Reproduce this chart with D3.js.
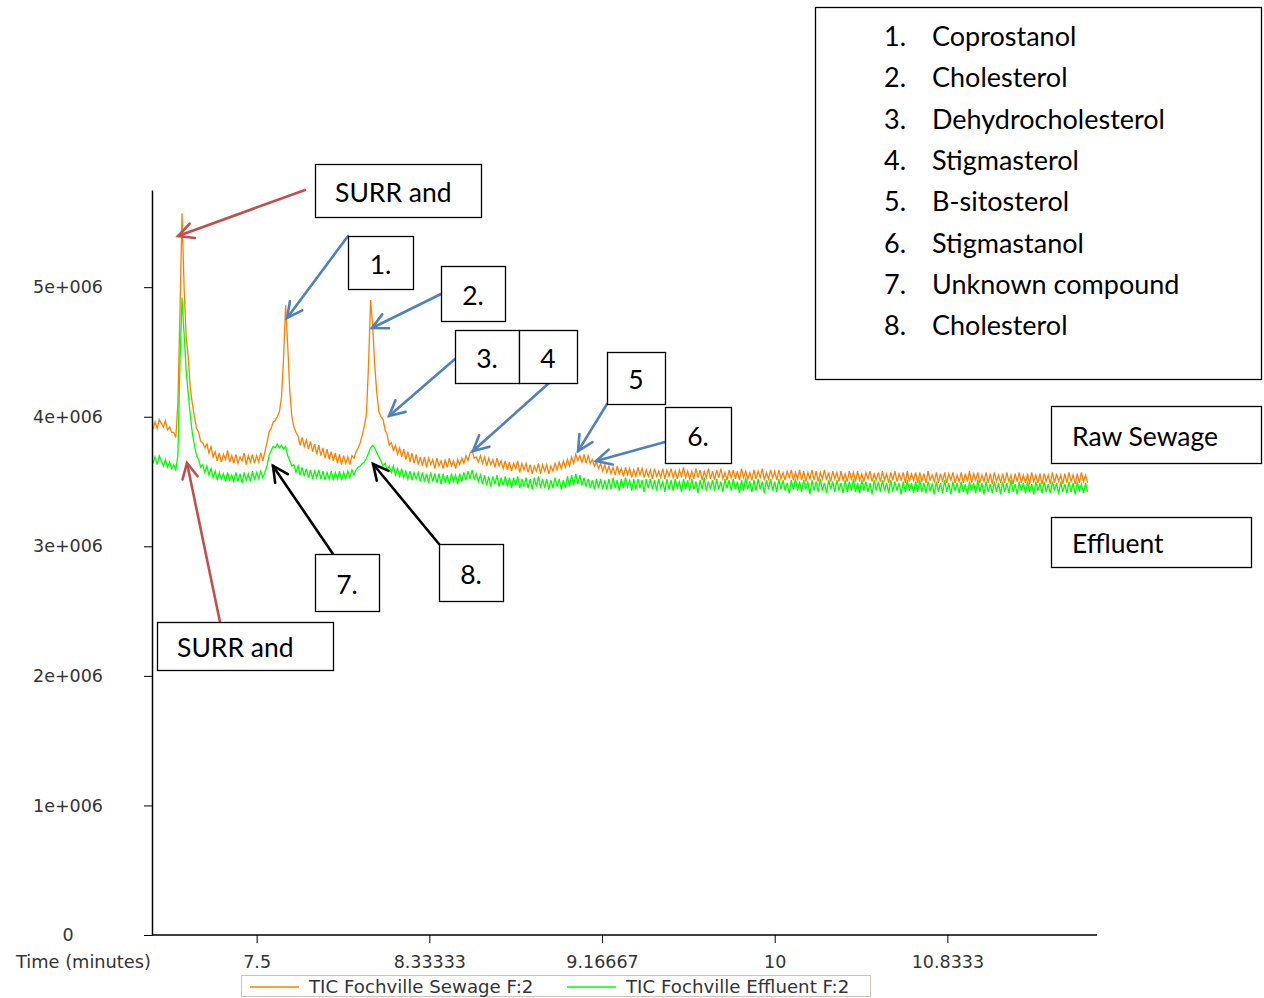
<!DOCTYPE html>
<html>
<head>
<meta charset="utf-8">
<script src="https://cdn.jsdelivr.net/npm/d3@7"></script>
<style>
  body { margin: 0; background: #fff; }
  svg { display: block; }
</style>
</head>
<body>
<svg id="chart" width="1264" height="998"></svg>
<script>
// Sampling grid of the chromatograms (minutes)
const startTime = 7.0;
const sampleStep = 0.01;

// Total ion current, in units of 10^4 counts, one value per sample
const sewage = [
  390,396,391,398,395,392,397,390,392,388,
  388,384,410,480,557,500,462,446,422,410,
  400,391,388,381,380,376,379,372,377,369,
  373,366,372,365,371,367,374,365,370,364,
  371,364,369,366,372,363,370,365,371,364,
  370,365,372,366,373,380,388,391,396,397,
  400,404,415,445,486,455,420,400,392,388,
  385,378,384,377,382,375,381,373,379,371,
  378,370,376,368,375,367,373,366,372,364,
  371,363,370,364,369,363,370,368,373,376,
  380,386,393,402,440,490,470,440,418,404,
  400,398,390,386,378,380,374,378,371,376,
  369,375,367,373,365,372,364,371,363,369,
  362,369,361,368,363,367,360,368,362,366,
  360,367,361,368,362,366,360,367,363,368,
  364,370,366,372,374,368,369,365,370,364,
  369,362,368,363,367,361,368,362,366,360,
  366,359,365,358,364,360,366,357,364,359,
  364,357,363,356,362,358,364,356,363,358,
  363,356,362,358,364,359,365,360,366,361,
  367,362,369,364,371,366,370,365,371,364,
  370,364,367,362,365,360,364,358,363,357,
  362,356,361,355,362,356,360,354,361,355,
  360,353,359,354,361,355,360,353,359,354,
  359,352,360,354,358,353,360,352,359,354,
  360,353,358,352,359,354,361,353,358,352,
  358,352,360,353,359,351,358,353,360,352,
  358,351,359,353,360,352,357,351,359,353,
  359,352,358,351,360,353,358,352,357,351,
  359,352,358,353,360,351,357,352,359,353,
  358,351,359,352,357,351,358,353,359,351,
  357,352,359,351,358,350,357,352,359,351,
  358,350,357,352,359,351,357,350,358,352,
  357,350,358,351,356,350,358,352,357,350,
  358,351,356,350,357,352,358,350,356,351,
  357,350,358,351,356,349,357,351,358,350,
  356,351,357,349,358,350,356,351,357,349,
  357,350,356,349,358,351,355,350,357,349,
  356,350,357,349,356,351,357,349,355,350,
  357,349,356,350,358,349,356,351,357,349,
  355,350,357,349,356,348,357,350,355,349,
  356,349,357,350,355,348,356,350,357,349,
  355,349,356,348,357,350,355,349,356,348,
  356,350,355,348,357,349,356,350,355,348,
  356,349,357,350,355,348,356,349,357,350,
  355,349
];

const effluent = [
  364,369,363,370,366,362,367,361,365,360,
  363,359,370,440,492,464,436,418,401,387,
  378,370,367,361,363,357,362,355,360,353,
  358,351,357,352,356,350,357,351,355,350,
  357,350,356,349,357,351,356,350,358,351,
  357,352,358,353,357,362,370,374,377,376,
  379,376,378,375,377,370,366,362,363,357,
  362,355,361,354,360,353,359,352,358,353,
  359,352,358,351,357,352,358,351,357,352,
  358,351,357,352,358,353,359,355,359,361,
  362,364,365,368,372,376,378,376,372,369,
  366,362,364,359,362,357,362,355,360,354,
  360,353,358,352,358,351,357,352,357,350,
  357,350,356,349,357,350,356,349,356,348,
  356,349,355,348,356,350,355,348,356,350,
  357,351,358,352,359,352,356,350,355,348,
  355,347,354,346,354,348,355,346,353,347,
  354,346,353,345,353,347,354,345,352,346,
  353,345,352,344,353,346,354,345,352,345,
  352,344,351,345,353,346,352,344,351,345,
  354,346,355,347,356,348,355,347,353,346,
  352,345,351,344,352,345,352,344,351,344,
  352,344,353,345,351,343,352,345,353,346,
  351,343,352,344,352,345,351,342,352,345,
  352,344,351,343,352,345,350,342,352,344,
  351,343,352,345,350,342,352,344,351,343,
  352,344,350,341,351,344,353,343,350,344,
  351,343,352,344,350,342,352,345,351,343,
  352,344,350,341,351,343,353,344,350,342,
  351,343,352,344,350,341,351,344,352,343,
  350,342,352,344,351,343,349,341,351,344,
  352,343,350,342,351,344,350,340,351,343,
  350,342,352,343,349,341,351,344,350,342,
  351,343,349,341,351,342,350,343,352,342,
  349,341,351,343,350,342,349,340,351,343,
  350,342,351,343,349,341,351,342,350,343,
  349,340,350,342,351,343,349,341,350,342,
  351,342,349,341,350,343,348,340,350,342,
  349,341,351,342,349,340,350,343,349,341,
  350,342,348,340,350,343,349,341,351,342,
  349,340,350,342,348,341,350,342,349,340,
  350,342,349,341,351,342,348,340,350,343,
  349,341,350,342,348,340,350,343,349,341,
  350,342,348,341,350,343,349,340,350,342,
  348,341,350,342,349,340,350,343,348,341,
  349,342
];

const seriesNames = ["TIC Fochville Sewage F:2", "TIC Fochville Effluent F:2"];
const seriesColors = ["#ff8000", "#00ff00"];

const xTickValues = [7.5, 8.33333, 9.16667, 10, 10.8333];
const xTickLabels = ["7.5", "8.33333", "9.16667", "10", "10.8333"];
const yTickValues = [0, 1e6, 2e6, 3e6, 4e6, 5e6];
const yTickLabels = ["0", "1e+006", "2e+006", "3e+006", "4e+006", "5e+006"];

const compoundNumbers = ["1.", "2.", "3.", "4.", "5.", "6.", "7.", "8."];
const compoundNames = ["Coprostanol", "Cholesterol", "Dehydrocholesterol", "Stigmasterol",
                       "B-sitosterol", "Stigmastanol", "Unknown compound", "Cholesterol"];

// ---- layout ----
const svg = d3.select("#chart");
const axisFont = "'DejaVu Sans', Verdana, sans-serif";
const noteFont = "Lato, Carlito, Calibri, sans-serif";

const x = d3.scaleLinear().domain([7.0, 11.56]).range([153, 1098]);
const y = d3.scaleLinear().domain([0, 5.75e6]).range([935, 190]);

// ---- traces ----
const toPoints = vals => vals.map((v, i) => ({ t: startTime + i * sampleStep, v: v * 1e4 }));
const line = d3.line().x(d => x(d.t)).y(d => y(d.v));
const traces = [toPoints(sewage), toPoints(effluent)];

svg.append("g").selectAll("path")
  .data(traces)
  .join("path")
  .attr("d", line)
  .attr("fill", "none")
  .attr("stroke", (d, i) => seriesColors[i])
  .attr("stroke-width", 1.3)
  .attr("stroke-linejoin", "miter");

// ---- axes ----
const yAxis = d3.axisLeft(y).tickValues(yTickValues)
  .tickFormat((d, i) => yTickLabels[i]).tickSize(8).tickSizeOuter(0);
const gy = svg.append("g").attr("transform", "translate(152,0)").call(yAxis);
gy.select(".domain").attr("stroke", "#000").attr("stroke-width", 1.5);
gy.selectAll(".tick line").attr("stroke", "#000");
gy.selectAll(".tick text")
  .attr("x", -84).attr("text-anchor", "middle")
  .attr("font-family", axisFont).attr("font-size", 17.5).attr("fill", "#333");

const xAxis = d3.axisBottom(x).tickValues(xTickValues)
  .tickFormat((d, i) => xTickLabels[i]).tickSize(8).tickSizeOuter(0);
const gx = svg.append("g").attr("transform", "translate(0,935)").call(xAxis);
gx.select(".domain").attr("d", "M152,0H1097").attr("stroke", "#000").attr("stroke-width", 1.5);
gx.selectAll(".tick line").attr("stroke", "#000");
gx.selectAll(".tick text")
  .attr("y", 33).attr("dy", 0)
  .attr("font-family", axisFont).attr("font-size", 17.5).attr("fill", "#333");

svg.append("text")
  .attr("x", 151).attr("y", 968).attr("text-anchor", "end")
  .attr("font-family", axisFont).attr("font-size", 17.8).attr("fill", "#333")
  .text("Time (minutes)");

// ---- series legend ----
const legend = svg.append("g");
legend.append("rect")
  .attr("x", 241.5).attr("y", 975.5).attr("width", 629).attr("height", 21)
  .attr("fill", "#fff").attr("stroke", "#c9c5bd");
const legendItems = [{ x0: 250 }, { x0: 567 }];
legendItems.forEach((it, i) => {
  legend.append("line")
    .attr("x1", it.x0).attr("x2", it.x0 + 49).attr("y1", 987).attr("y2", 987)
    .attr("stroke", seriesColors[i]).attr("stroke-width", 1.5);
  legend.append("text")
    .attr("x", it.x0 + 59).attr("y", 993)
    .attr("font-family", axisFont).attr("font-size", 18.2).attr("fill", "#333")
    .text(seriesNames[i]);
});

// ---- compound key ----
const key = svg.append("g");
key.append("rect")
  .attr("x", 815.5).attr("y", 7.5).attr("width", 446).attr("height", 372)
  .attr("fill", "#fff").attr("stroke", "#000").attr("stroke-width", 1.3);
compoundNames.forEach((name, i) => {
  const by = 46 + i * 41.3;
  key.append("text").attr("x", 884).attr("y", by)
    .attr("font-family", noteFont).attr("font-size", 27).text(compoundNumbers[i]);
  key.append("text").attr("x", 932).attr("y", by)
    .attr("font-family", noteFont).attr("font-size", 27).text(name);
});

// ---- callouts: box [x, y, w, h], arrow tail in px, arrow tip at (time, counts) ----
const callouts = [
  { text: "SURR and", box: [315, 164, 166, 53], pad: 20, color: "#c0504d", tail: [305, 190], tip: [7.121, 5.395e6] },
  { text: "SURR and", box: [157, 622, 176, 48], pad: 20, color: "#c0504d", tail: [220, 622], tip: [7.164, 3.643e6] },
  { text: "1.", box: [348, 236, 65, 53], color: "#4f81bd", tail: [348, 236], tip: [7.647, 4.762e6] },
  { text: "2.", box: [441, 266, 64, 55], color: "#4f81bd", tail: [441, 294], tip: [8.057, 4.685e6] },
  { text: "3.", box: [455, 330, 64, 53], color: "#4f81bd", tail: [455, 359], tip: [8.139, 4.006e6] },
  { text: "4", box: [519, 330, 58, 53], color: "#4f81bd", tail: [549, 383], tip: [8.544, 3.735e6] },
  { text: "5", box: [607, 352, 58, 52], color: "#4f81bd", tail: [607, 404], tip: [9.051, 3.735e6] },
  { text: "6.", box: [665, 407, 66, 56], color: "#4f81bd", tail: [665, 442], tip: [9.138, 3.658e6] },
  { text: "7.", box: [315, 554, 64, 57], color: "#000", tail: [333, 554], tip: [7.579, 3.620e6] },
  { text: "8.", box: [439, 544, 64, 57], color: "#000", tail: [439, 544], tip: [8.062, 3.635e6] },
  { text: "Raw Sewage", box: [1051, 406, 210, 57], pad: 21 },
  { text: "Effluent", box: [1051, 517, 200, 50], pad: 21 }
];

const notes = svg.append("g");
callouts.forEach(c => {
  if (c.color) {
    const x1 = c.tail[0], y1 = c.tail[1];
    const x2 = x(c.tip[0]), y2 = y(c.tip[1]);
    const ang = Math.atan2(y2 - y1, x2 - x1);
    const head = 17, spread = 0.47;
    const g = notes.append("g").attr("stroke", c.color).attr("stroke-width", 2.6)
      .attr("stroke-linecap", "round").attr("fill", "none");
    g.append("line").attr("x1", x1).attr("y1", y1).attr("x2", x2).attr("y2", y2);
    g.append("path").attr("d",
      `M${x2 - head * Math.cos(ang - spread)},${y2 - head * Math.sin(ang - spread)}` +
      `L${x2},${y2}` +
      `L${x2 - head * Math.cos(ang + spread)},${y2 - head * Math.sin(ang + spread)}`);
  }
  const [bx, by, bw, bh] = c.box;
  notes.append("rect")
    .attr("x", bx + 0.5).attr("y", by + 0.5).attr("width", bw).attr("height", bh)
    .attr("fill", "#fff").attr("stroke", "#000").attr("stroke-width", 1.3);
  const t = notes.append("text")
    .attr("y", by + bh / 2 + 11)
    .attr("font-family", noteFont).attr("font-size", 26.5).attr("fill", "#000")
    .text(c.text);
  if (c.pad != null) t.attr("x", bx + c.pad);
  else t.attr("x", bx + bw / 2).attr("text-anchor", "middle");
});
</script>
</body>
</html>
